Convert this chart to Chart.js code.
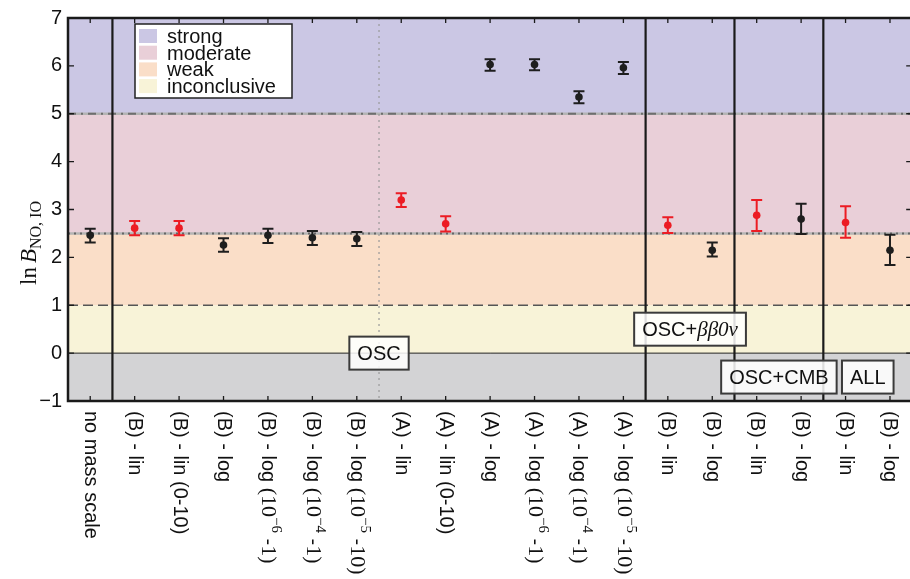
<!DOCTYPE html>
<html>
<head>
<meta charset="utf-8">
<script src="https://cdn.jsdelivr.net/npm/chart.js@4.4.1/dist/chart.umd.min.js"></script>
<style>
  html, body { margin: 0; padding: 0; background: #fff; overflow: hidden; }
  canvas { display: block; }
</style>
</head>
<body>
<canvas id="chart" width="916" height="579" style="width:916px;height:579px"></canvas>
<script>
// categories along the x axis (prior choices)
const categories = [
  "no mass scale",
  "(B) - lin", "(B) - lin (0-10)", "(B) - log",
  "(B) - log (10^-6 -1)", "(B) - log (10^-4 -1)", "(B) - log (10^-5 -10)",
  "(A) - lin", "(A) - lin (0-10)", "(A) - log",
  "(A) - log (10^-6 -1)", "(A) - log (10^-4 -1)", "(A) - log (10^-5 -10)",
  "(B) - lin", "(B) - log",
  "(B) - lin", "(B) - log",
  "(B) - lin", "(B) - log"
];

// ln B(NO, IO) central values and error bar ends
const lnB     = [2.46, 2.61, 2.61, 2.26, 2.46, 2.41, 2.39, 3.20, 2.70, 6.03, 6.03, 5.35, 5.96, 2.67, 2.15, 2.88, 2.80, 2.73, 2.15];
const errLow  = [2.31, 2.46, 2.46, 2.12, 2.30, 2.26, 2.24, 3.05, 2.54, 5.90, 5.91, 5.22, 5.83, 2.51, 2.02, 2.55, 2.49, 2.41, 1.84];
const errHigh = [2.60, 2.76, 2.76, 2.40, 2.60, 2.55, 2.53, 3.34, 2.86, 6.14, 6.14, 5.47, 6.08, 2.84, 2.31, 3.20, 3.12, 3.07, 2.47];

// y ticks
const yTicks = [-1, 0, 1, 2, 3, 4, 5, 6, 7];

// Jeffreys scale bands (lower edge, upper edge)
const bandNames = ["", "inconclusive", "weak", "moderate", "strong"];
const bandEdges = [-1, 0, 1, 2.5, 5, 7];

// data-set groups
const groupLabels = ["OSC", "OSC+\u03b2\u03b20\u03bd", "OSC+CMB", "ALL"];
const groupX      = [6.5, 13.5, 15.5, 17.5];
const groupY      = [0, 0.5, -0.5, -0.5];
const groupBreaks = [0.5, 12.5, 14.5, 16.5];
const priorBreak  = 6.5;

const bandColors = ["#d3d3d5", "#f8f3d8", "#fadec8", "#e9cfd8", "#cbc7e4"];
const RED = "#ec1c24", BLACK = "#1e1e1e";
const SANS = "'Liberation Sans', Arial, sans-serif";
const SERIF = "'Liberation Serif', 'Times New Roman', serif";
const pointColors = categories.map(c => c.includes("lin") ? RED : BLACK);

function hline(ctx, area, y, color, width, dash) {
  ctx.save();
  ctx.strokeStyle = color; ctx.lineWidth = width; ctx.setLineDash(dash);
  ctx.beginPath(); ctx.moveTo(area.left, y); ctx.lineTo(area.right, y); ctx.stroke();
  ctx.restore();
}

// backgrounds, reference lines, separators, error bars
const backdrop = {
  id: "backdrop",
  beforeDatasetsDraw(chart) {
    const { ctx, chartArea: a, scales: { x, y } } = chart;
    for (let i = 0; i < bandColors.length; i++) {
      const top = y.getPixelForValue(bandEdges[i + 1]);
      const bot = y.getPixelForValue(bandEdges[i]);
      ctx.fillStyle = bandColors[i];
      ctx.fillRect(a.left, top, a.right - a.left, bot - top);
    }
    hline(ctx, a, y.getPixelForValue(5), "#b4b4b4", 2.5, []);
    hline(ctx, a, y.getPixelForValue(5), "#6e6e6e", 2, [8, 5, 2, 5]);
    hline(ctx, a, y.getPixelForValue(2.5), "#b4b4b4", 2.5, []);
    hline(ctx, a, y.getPixelForValue(2.5), "#666", 2, [2, 4]);
    hline(ctx, a, y.getPixelForValue(1), "#555", 1.5, [10, 5]);
    hline(ctx, a, y.getPixelForValue(0), "#222", 1, []);

    // dotted split between prior (B) and (A)
    ctx.save();
    ctx.strokeStyle = "#999"; ctx.lineWidth = 1.2; ctx.setLineDash([2, 4]);
    const px = x.getPixelForValue(priorBreak);
    ctx.beginPath(); ctx.moveTo(px, a.top); ctx.lineTo(px, a.bottom); ctx.stroke();
    ctx.restore();

    // legend
    ctx.save();
    ctx.fillStyle = "#fff"; ctx.strokeStyle = "#222"; ctx.lineWidth = 1.5;
    ctx.fillRect(135, 24, 157, 74); ctx.strokeRect(135, 24, 157, 74);
    ctx.font = "20px " + SANS; ctx.textBaseline = "alphabetic"; ctx.textAlign = "left";
    for (let k = 0; k < 4; k++) {
      const b = 4 - k;
      const base = 43 + k * 16.7;
      ctx.fillStyle = bandColors[b];
      ctx.fillRect(139, base - 14, 18, 14);
      ctx.fillStyle = "#111";
      ctx.fillText(bandNames[b], 167, base);
    }
    ctx.restore();

    // error bars
    ctx.save();
    ctx.lineWidth = 2;
    for (let i = 0; i < lnB.length; i++) {
      const cx = x.getPixelForValue(i);
      const lo = y.getPixelForValue(errLow[i]);
      const hi = y.getPixelForValue(errHigh[i]);
      ctx.strokeStyle = pointColors[i];
      ctx.beginPath();
      ctx.moveTo(cx, lo); ctx.lineTo(cx, hi);
      ctx.moveTo(cx - 5.5, lo); ctx.lineTo(cx + 5.5, lo);
      ctx.moveTo(cx - 5.5, hi); ctx.lineTo(cx + 5.5, hi);
      ctx.stroke();
    }
    ctx.restore();
  }
};

function drawRotatedLabel(ctx, label, px, py) {
  const m = label.match(/^(.*?)\(10\^(-\d) -(\d+)\)$/);
  const segs = m
    ? [[SANS, 20, m[1], 0], [SERIF, 22, "(10", 0], [SERIF, 15, m[2].replace("-", "\u2212"), -8],
       [SANS, 20, " -", 0], [SERIF, 22, m[3] + ")", 0]]
    : [[SANS, 20, label, 0]];
  ctx.save();
  ctx.translate(px, py);
  ctx.rotate(Math.PI / 2);
  ctx.textBaseline = "middle"; ctx.textAlign = "left"; ctx.fillStyle = "#111";
  let off = 0;
  for (const [fam, size, txt, dy] of segs) {
    ctx.font = size + "px " + fam;
    ctx.fillText(txt, off, dy);
    off += ctx.measureText(txt).width;
  }
  ctx.restore();
}

// frame, ticks, separators, group boxes, x labels, y title
const frame = {
  id: "frame",
  afterDraw(chart) {
    const { ctx, chartArea: a, scales: { x, y } } = chart;
    ctx.save();
    ctx.strokeStyle = "#1a1a1a"; ctx.lineWidth = 2.2;
    for (const b of groupBreaks) {
      const px = x.getPixelForValue(b);
      ctx.beginPath(); ctx.moveTo(px, a.top); ctx.lineTo(px, a.bottom); ctx.stroke();
    }
    ctx.lineWidth = 1.3;
    ctx.beginPath();
    for (let i = 0; i < categories.length; i++) {
      const px = x.getPixelForValue(i);
      ctx.moveTo(px, a.bottom); ctx.lineTo(px, a.bottom - 5);
      ctx.moveTo(px, a.top); ctx.lineTo(px, a.top + 5);
    }
    for (const t of yTicks) {
      const py = y.getPixelForValue(t);
      ctx.moveTo(a.left, py); ctx.lineTo(a.left + 6, py);
      ctx.moveTo(a.right, py); ctx.lineTo(a.right - 6, py);
    }
    ctx.stroke();
    ctx.lineWidth = 2.5;
    ctx.strokeRect(a.left, a.top, a.right - a.left, a.bottom - a.top);

    // group label boxes
    for (let g = 0; g < groupLabels.length; g++) {
      const cx = x.getPixelForValue(groupX[g]);
      const cy = y.getPixelForValue(groupY[g]);
      const lab = groupLabels[g];
      const plus = lab.indexOf("+");
      const head = plus >= 0 ? lab.slice(0, plus + 1) : lab;
      let tail = plus >= 0 ? lab.slice(plus + 1) : "";
      const mathTail = tail.includes("\u03b2");
      ctx.font = "20px " + SANS;
      let w = ctx.measureText(head).width;
      let wt = 0;
      if (tail) {
        ctx.font = (mathTail ? "italic 21px " + SERIF : "20px " + SANS);
        wt = ctx.measureText(tail).width;
      }
      const bw = w + wt + 16, bh = 33;
      ctx.fillStyle = "rgba(255,255,255,0.85)";
      ctx.fillRect(cx - bw / 2, cy - bh / 2, bw, bh);
      ctx.strokeStyle = "#3a3a3a"; ctx.lineWidth = 2;
      ctx.strokeRect(cx - bw / 2, cy - bh / 2, bw, bh);
      ctx.fillStyle = "#111"; ctx.textBaseline = "alphabetic"; ctx.textAlign = "left";
      ctx.font = "20px " + SANS;
      ctx.fillText(head, cx - bw / 2 + 8, cy + 7);
      if (tail) {
        ctx.font = (mathTail ? "italic 21px " + SERIF : "20px " + SANS);
        ctx.fillText(tail, cx - bw / 2 + 8 + w, cy + 7);
      }
    }

    // x labels, reading top to bottom
    categories.forEach((c, i) => drawRotatedLabel(ctx, c, x.getPixelForValue(i), a.bottom + 10));

    // y title: ln B_{NO, IO}
    ctx.translate(28, 243);
    ctx.rotate(-Math.PI / 2);
    ctx.fillStyle = "#111"; ctx.textBaseline = "alphabetic"; ctx.textAlign = "left";
    const parts = [["23px " + SERIF, "ln", 0], ["italic 23px " + SERIF, "B", 0], ["16px " + SERIF, "NO, IO", 5]];
    let total = 0;
    for (const [f, t] of parts) { ctx.font = f; total += ctx.measureText(t).width + (t === "ln" ? 4 : 0); }
    let off = -total / 2;
    for (const [f, t, dy] of parts) {
      ctx.font = f;
      ctx.fillText(t, off, 8 + dy);
      off += ctx.measureText(t).width + (t === "ln" ? 4 : 0);
    }
    ctx.restore();
  }
};

new Chart(document.getElementById("chart"), {
  type: "line",
  data: {
    labels: categories,
    datasets: [{
      label: "ln B",
      data: lnB,
      showLine: false,
      pointRadius: 3.8,
      pointHoverRadius: 3.8,
      pointBorderWidth: 0,
      pointBackgroundColor: pointColors,
    }],
  },
  options: {
    responsive: false,
    animation: false,
    layout: { padding: { top: 10, right: 0, left: 0, bottom: 0 } },
    plugins: { legend: { display: false }, tooltip: { enabled: false } },
    scales: {
      x: {
        type: "category",
        offset: true,
        grid: { display: false },
        border: { display: false },
        ticks: { display: false },
        afterFit: s => { s.height = 178; },
      },
      y: {
        min: -1, max: 7,
        afterBuildTicks: s => { s.ticks = yTicks.map(v => ({ value: v })); },
        grid: { display: false, drawTicks: false },
        border: { display: false },
        ticks: {
          padding: 6,
          color: "#111",
          font: { family: SANS, size: 20 },
          callback: v => String(v).replace("-", "\u2212"),
        },
        afterFit: s => { s.width = 68; },
      },
    },
  },
  plugins: [backdrop, frame],
});
</script>
</body>
</html>
